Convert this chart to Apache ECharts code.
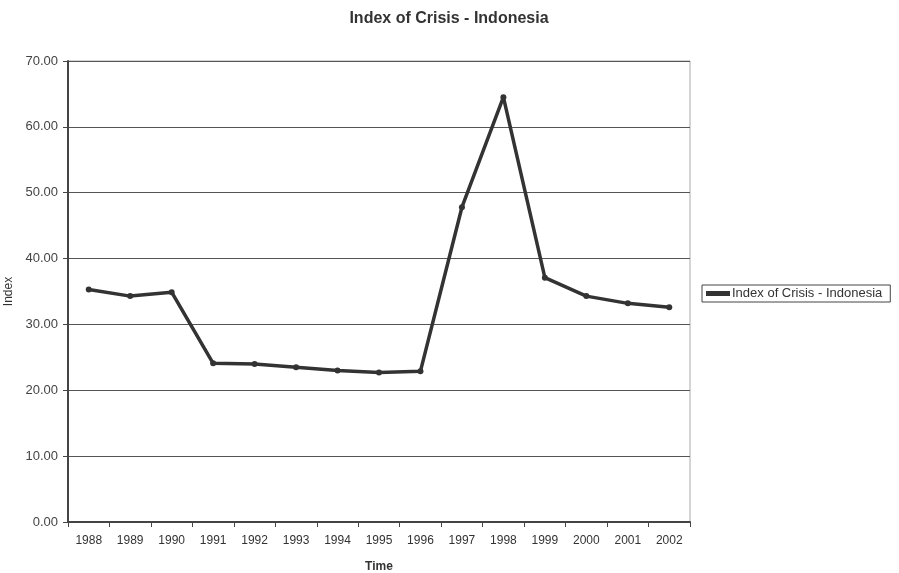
<!DOCTYPE html>
<html><head><meta charset="utf-8">
<script src="https://cdn.jsdelivr.net/npm/echarts@6/dist/echarts.min.js"></script>
<style>html,body{margin:0;padding:0;background:#fff}#c{width:899px;height:573px}</style>
</head><body><div id="c"></div>
<script>
const titleText = 'Index of Crisis - Indonesia';
const years = ['1988','1989','1990','1991','1992','1993','1994','1995','1996','1997','1998','1999','2000','2001','2002'];
const indexValues = [35.3, 34.3, 34.9, 24.1, 24.0, 23.5, 23.0, 22.7, 22.9, 47.8, 64.5, 37.1, 34.3, 33.2, 32.6];
const seriesName = 'Index of Crisis - Indonesia';
const font = '"Liberation Sans", Arial, sans-serif';
const chart = echarts.init(document.getElementById('c'));
chart.setOption({
  animation: false,
  backgroundColor: '#fff',
  title: { text: titleText, left: 444, top: 6, textAlign: 'center',
    textStyle: { fontFamily: font, fontSize: 16, fontWeight: 'bold', color: '#333' } },
  legend: { data: [seriesName], left: 702, top: 285, orient: 'vertical',
    borderColor: '#444', borderWidth: 1, padding: [2, 8, 2, 4], itemWidth: 24, itemHeight: 5, itemGap: 2,
    textStyle: { fontFamily: font, fontSize: 13, color: '#333', padding: [0,0,0,-3] }, icon: 'rect' },
  grid: { left: 68, right: 209, top: 61, bottom: 51, show: true, borderColor: '#aaa', borderWidth: 1,
    outerBoundsMode: 'none', containLabel: false },
  xAxis: { type: 'category', data: years, boundaryGap: true, name: 'Time', nameLocation: 'middle', nameGap: 39,
    nameTextStyle: { fontFamily: font, fontSize: 12, fontWeight: 'bold', color: '#333' },
    axisLine: { lineStyle: { color: '#444', width: 2 } },
    axisTick: { show: true, lineStyle: { color: '#444' }, length: 5 },
    axisLabel: { fontFamily: font, fontSize: 12, color: '#333', margin: 13 } },
  yAxis: { type: 'value', min: 0, max: 70, interval: 10, name: 'Index', nameLocation: 'middle', nameGap: 46,
    nameTextStyle: { fontFamily: font, fontSize: 12, color: '#333' },
    axisLine: { show: true, lineStyle: { color: '#444', width: 2 } },
    axisTick: { show: true, lineStyle: { color: '#444' }, length: 5 },
    axisLabel: { fontFamily: font, fontSize: 13, color: '#444', margin: 10, formatter: v => v.toFixed(2) },
    splitLine: { lineStyle: { color: '#555', width: 1 } } },
  series: [{ name: seriesName, type: 'line', data: indexValues, symbol: 'circle', symbolSize: 6,
    lineStyle: { color: '#333', width: 3.5 }, itemStyle: { color: '#333' } }]
});
</script></body></html>
